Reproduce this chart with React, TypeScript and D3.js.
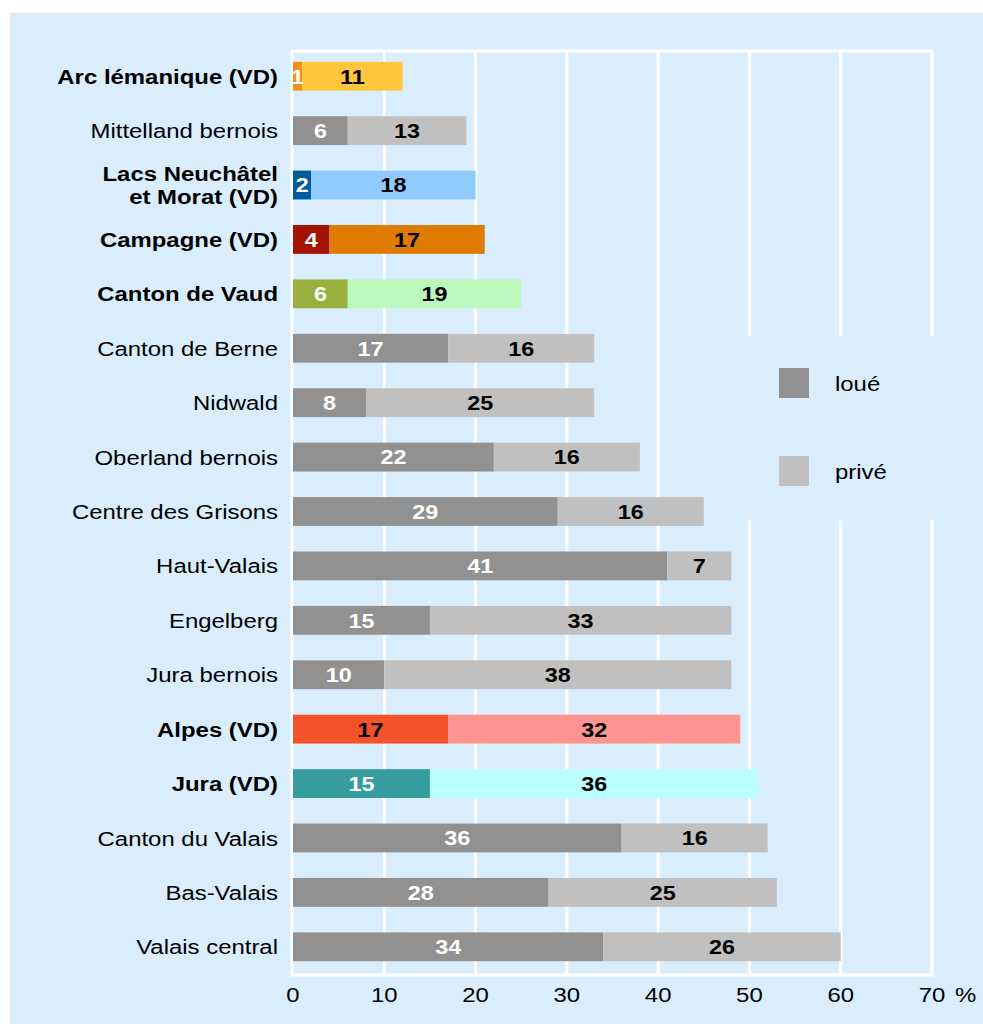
import React, { useEffect, useRef } from 'react';
import * as d3 from 'd3';

// regions, top to bottom
const regions = [
  'Arc lémanique (VD)', 'Mittelland bernois', 'Lacs Neuchâtel|et Morat (VD)', 'Campagne (VD)',
  'Canton de Vaud', 'Canton de Berne', 'Nidwald', 'Oberland bernois', 'Centre des Grisons',
  'Haut-Valais', 'Engelberg', 'Jura bernois', 'Alpes (VD)', 'Jura (VD)', 'Canton du Valais',
  'Bas-Valais', 'Valais central',
];
const loue = [1, 6, 2, 4, 6, 17, 8, 22, 29, 41, 15, 10, 17, 15, 36, 28, 34];
const prive = [11, 13, 18, 17, 19, 16, 25, 16, 16, 7, 33, 38, 32, 36, 16, 25, 26];
const boldRows = ['Arc lémanique (VD)', 'Lacs Neuchâtel|et Morat (VD)', 'Campagne (VD)', 'Canton de Vaud', 'Alpes (VD)', 'Jura (VD)'];
const ticks = [0, 10, 20, 30, 40, 50, 60, 70];

const grey = ['#919191', '#c0c0c0'];
const special: { [k: string]: string[] } = {
  'Arc lémanique (VD)': ['#f39117', '#ffc63c'],
  'Lacs Neuchâtel|et Morat (VD)': ['#005c99', '#8fcbff'],
  'Campagne (VD)': ['#a51200', '#de7b00'],
  'Canton de Vaud': ['#99b03f', '#bbf8bb'],
  'Alpes (VD)': ['#f4522b', '#ff9490'],
  'Jura (VD)': ['#369c9f', '#bbffff'],
};

const font = 'Liberation Sans, Arial, sans-serif';
const stretch = 1.14; // the reference text is a bit wider than Arial

const App = () => {
  const ref = useRef<SVGSVGElement>(null);

  useEffect(() => {
    const svg = d3.select(ref.current);
    svg.selectAll('*').remove();
    const bg = '#d9edfd';

    const label = (parent: any, x: number, y: number, txt: string | number, size: number, anchor: string, weight = 'normal', fill = 'black') =>
      parent.append('g').attr('transform', `translate(${x},${y}) scale(${stretch},1)`)
        .append('text').attr('dy', '0.36em').attr('text-anchor', anchor)
        .attr('font-family', font).attr('font-size', size).attr('font-weight', weight).attr('fill', fill)
        .text(txt);

    svg.append('rect').attr('x', 10).attr('y', 13).attr('width', 973).attr('height', 1011).attr('fill', bg);

    const x = d3.scaleLinear().domain([0, 70]).range([293, 932]);
    const y = d3.scaleBand().domain(regions).range([49, 974]).paddingInner(0.47).paddingOuter(0.235);

    // grid
    svg.append('g').selectAll('line').data(ticks.slice(1)).enter().append('line')
      .attr('x1', d => x(d)).attr('x2', d => x(d)).attr('y1', 51).attr('y2', 975)
      .attr('stroke', 'white').attr('stroke-width', 3);
    svg.append('rect').attr('x', 292).attr('y', 51).attr('width', x(70) - 292).attr('height', 924)
      .attr('fill', 'none').attr('stroke', 'white').attr('stroke-width', 3);

    // legend area hides the grid
    svg.append('rect').attr('x', 705).attr('y', 336).attr('width', 260).attr('height', 184).attr('fill', bg);

    const rows = regions.map((r, i) => ({ r, l: loue[i], p: prive[i], c: special[r] || grey }));
    const g = svg.append('g');
    rows.forEach(d => {
      const y0 = y(d.r)!;
      const bw = y.bandwidth();
      const cy = y0 + bw / 2;
      g.append('rect').attr('x', x(0)).attr('y', y0).attr('width', x(d.l) - x(0)).attr('height', bw).attr('fill', d.c[0]);
      g.append('rect').attr('x', x(d.l)).attr('y', y0).attr('width', x(d.l + d.p) - x(d.l)).attr('height', bw).attr('fill', d.c[1]);
      label(g, (x(0) + x(d.l)) / 2, cy, d.l, 20.5, 'middle', 'bold', d.r === 'Alpes (VD)' ? 'black' : 'white');
      label(g, (x(d.l) + x(d.l + d.p)) / 2, cy, d.p, 20.5, 'middle', 'bold', 'black');

      const lines = d.r.split('|');
      const weight = boldRows.includes(d.r) ? 'bold' : 'normal';
      lines.forEach((s, k) => {
        label(g, 278, cy + (k - (lines.length - 1) / 2) * 23, s, 21, 'end', weight);
      });
    });

    // x axis labels
    const ax = svg.append('g');
    ticks.forEach(t => label(ax, x(t), 994, t, 21, 'middle'));
    label(ax, x(70) + 23, 994, '%', 21, 'start');

    // legend
    const leg = [['loué', grey[0]], ['privé', grey[1]]];
    leg.forEach(([name, col], i) => {
      svg.append('rect').attr('x', 779).attr('y', 368 + i * 88).attr('width', 30).attr('height', 30).attr('fill', col);
      label(svg, 835, 383 + i * 88, name, 21, 'start');
    });
  }, []);

  return <svg ref={ref} width={983} height={1024} style={{ display: 'block', position: 'absolute', left: 0, top: 0 }}></svg>;
};

export default App;
